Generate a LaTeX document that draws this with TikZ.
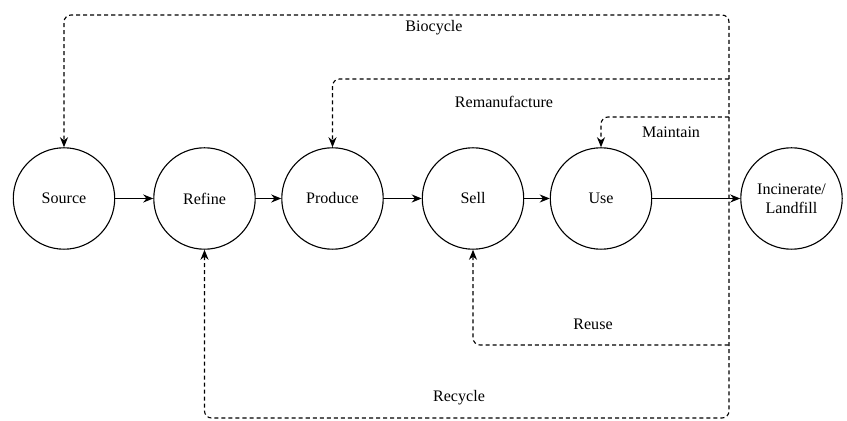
\documentclass[tikz,border=0pt]{standalone}
\usepackage{fontspec}
\setmainfont{Liberation Serif}
\usetikzlibrary{arrows.meta}

\begin{document}
\begin{tikzpicture}[x=0.035cm, y=-0.035cm,
	stage/.style={circle, draw, line width=1.1pt, minimum size=3.55cm, align=center, font=\fontsize{16}{19}\selectfont},
	flow/.style={line width=1.1pt, -{Stealth[length=10pt, width=8pt]}},
	dashline/.style={line width=1.1pt, dash pattern=on 4pt off 3pt, rounded corners=7pt},
	looptext/.style={font=\fontsize{16}{19}\selectfont}]
	
	\useasboundingbox (0,0) rectangle (847,421);
	
	\node[stage] (source) at (64,198.5) {Source};
	\node[stage] (refine) at (204.5,198.5) {Refine};
	\node[stage] (produce) at (332.5,198.5) {Produce};
	\node[stage] (sell) at (473,198.5) {Sell};
	\node[stage] (use) at (601,198.5) {Use};
	\node[stage] (landfill) at (791.5,198.5) {Incinerate/\\Landfill};
	
	\draw[flow] (source) -- (refine);
	\draw[flow] (refine) -- (produce);
	\draw[flow] (produce) -- (sell);
	\draw[flow] (sell) -- (use);
	\draw[flow] (use) -- (landfill);
	
	\coordinate (top) at (729,15);
	\coordinate (bottom) at (729,418);
	\coordinate (reman) at (729,79);
	\coordinate (maint) at (729,117);
	\coordinate (reuse) at (729,345);
	
	% outer loop: biocycle and recycle
	\draw[dashline, {Stealth[length=10pt, width=8pt]}-{Stealth[length=10pt, width=8pt]}] (refine.south) |- (bottom) -- (top) -| (source.north);
	\draw[dashline, -{Stealth[length=10pt, width=8pt]}] (reman) -| (produce.north);
	\draw[dashline, -{Stealth[length=10pt, width=8pt]}] (maint) -| (use.north);
	\draw[dashline, {Stealth[length=10pt, width=8pt]}-] (sell.south) |- (reuse);
	
	\node[looptext] (biolabel) at (434,28) {Biocycle};
	\node[looptext] (remanlabel) at (504,102) {Remanufacture};
	\node[looptext] (maintlabel) at (671,132) {Maintain};
	\node[looptext] (reuselabel) at (593,324) {Reuse};
	\node[looptext] (recyclabel) at (459,398) {Recycle};
	
\end{tikzpicture}
\end{document}
